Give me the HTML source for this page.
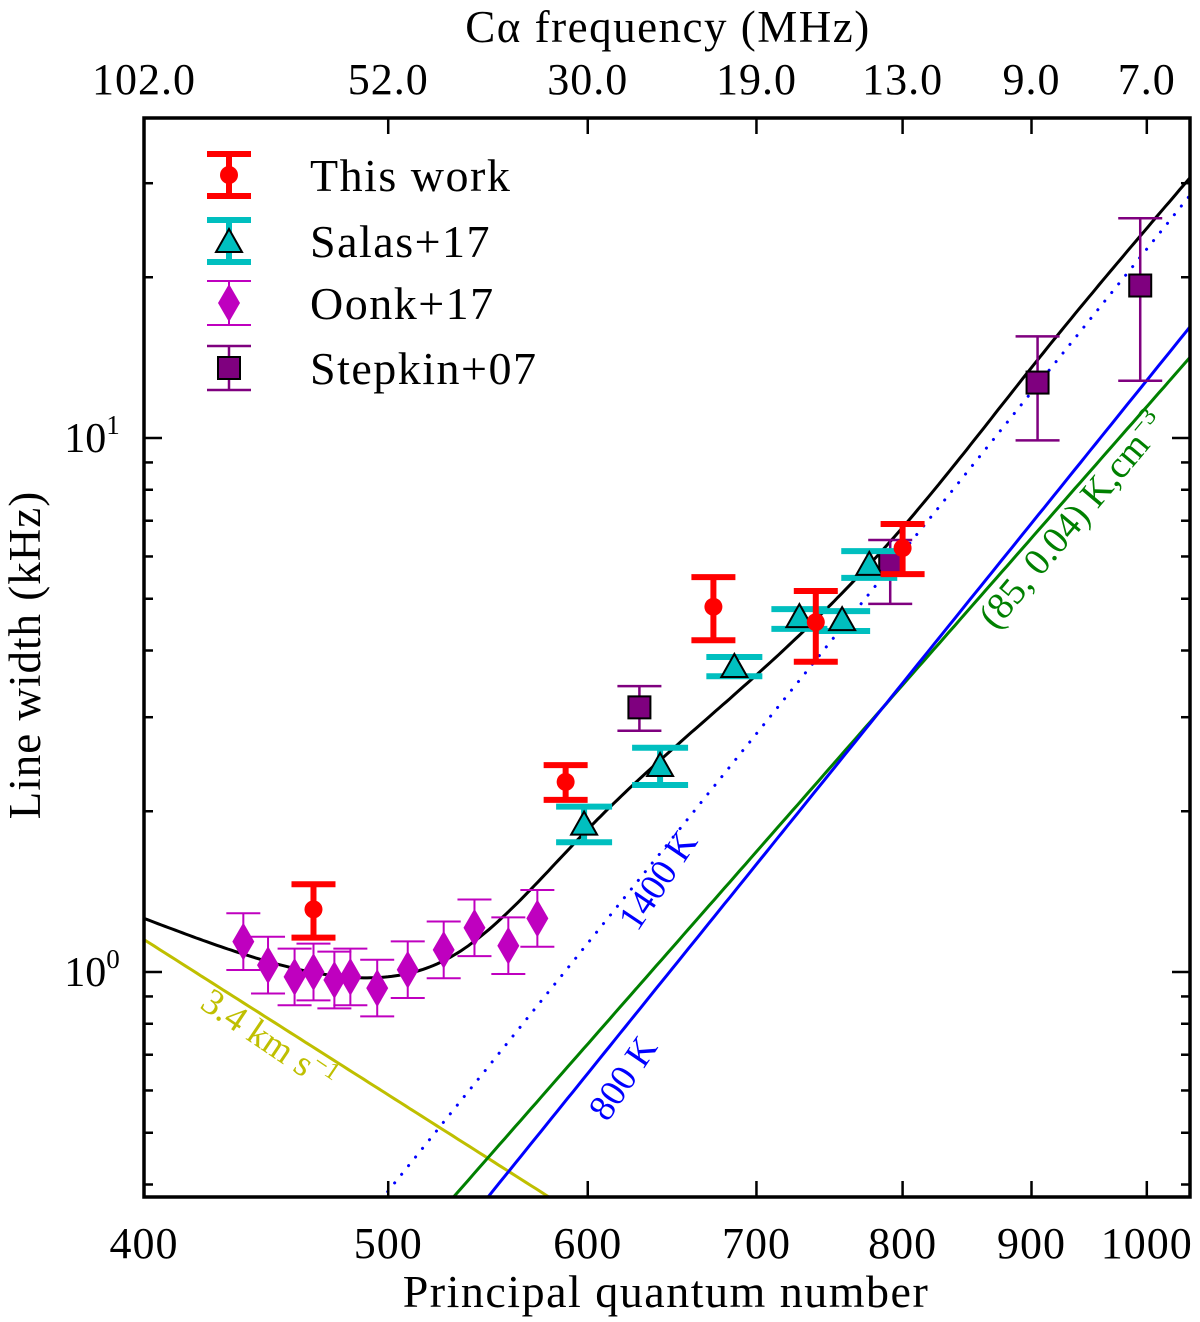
<!DOCTYPE html>
<html><head><meta charset="utf-8">
<style>
html,body{margin:0;padding:0;background:#fff;overflow:hidden;width:1200px;height:1322px;}
svg{display:block;font-family:"Liberation Serif","DejaVu Serif",serif;}
</style></head>
<body>
<svg id="chart" width="1200" height="1322" viewBox="0 0 1200 1322" xmlns="http://www.w3.org/2000/svg">
<text x="668" y="42" font-size="45" letter-spacing="1.5" text-anchor="middle">Cα frequency (MHz)</text>
<text x="666" y="1307" font-size="46" letter-spacing="1.5" text-anchor="middle">Principal quantum number</text>
<text transform="translate(40,655) rotate(-90)" font-size="45" letter-spacing="1" text-anchor="middle">Line width (kHz)</text>
<g id="layer"></g>
</svg>
<script>
// ---- data ----
const xTicks = [400,500,600,700,800,900,1000];
const topTickN = [400,500,600,700,800,900,1000];
const topTickLabels = ["102.0","52.0","30.0","19.0","13.0","9.0","7.0"];
const yMajor = [1,10];
const yMinor = [0.4,0.5,0.6,0.7,0.8,0.9,2,3,4,5,6,7,8,9,20,30];

const thisN  = [467,588,673,739,800];
const thisW  = [1.31,2.27,4.83,4.52,6.22];
const thisLo = [1.16,2.10,4.18,3.81,5.56];
const thisHi = [1.46,2.44,5.49,5.17,6.90];

const salasN  = [598,641,686,728,757,776];
const salasW  = [1.88,2.42,3.71,4.60,4.54,5.76];
const salasLo = [1.75,2.24,3.58,4.39,4.35,5.47];
const salasHi = [2.04,2.63,3.89,4.78,4.74,6.14];

const oonkN = [438,448,459,467,476,483,495,509,526,541,558,573];
const oonkW = [1.14,1.03,0.979,1.0,0.966,0.979,0.933,1.01,1.10,1.21,1.12,1.26];
const oonkErrFactor = [1.13,1.13,1.13,1.13,1.13,1.13,1.13,1.13,1.13,1.13,1.13,1.13];

const stepN  = [629,791,905,994];
const stepW  = [3.13,5.83,12.7,19.3];
const stepLo = [2.83,4.89,9.9,12.8];
const stepHi = [3.43,6.44,15.5,25.8];

// model curve nodes (log-log spline)
const modelN = [400,450,490,530,600,700,800,905,1045];
const modelW = [1.26,1.04,0.975,1.07,1.85,3.6,6.8,14.0,31.5];

// power-law lines: anchor n, anchor width, index
const dopplerAnchor = [400,1.15,-3];
const rad800Anchor  = [548,0.38,5.85];
const rad1400Anchor = [498,0.38,5.86];
const collAnchor    = [531,0.38,5.38];

// ---- axes ----
const L=144,R=1190,T=118,B=1197;
const NMIN=400, PXDEC=2520;
const NMAX=NMIN*Math.pow(10,(R-L)/PXDEC);
const Y0=972, YDEC=534;
const X=n=>L+Math.log10(n/NMIN)*PXDEC;
const Y=w=>Y0-Math.log10(w)*YDEC;
const NS="http://www.w3.org/2000/svg";
const layer=document.getElementById('layer');
function mk(tag,attrs,parent){const e=document.createElementNS(NS,tag);for(const k in attrs)e.setAttribute(k,attrs[k]);(parent||layer).appendChild(e);return e;}

const defs=mk('defs',{});
const cp=mk('clipPath',{id:'clip'},defs);
mk('rect',{x:L,y:T,width:R-L,height:B-T},cp);
const plot=mk('g',{'clip-path':'url(#clip)'});



function powerLine(a,color,dash,name){
  const f=n=>a[1]*Math.pow(n/a[0],a[2]);
  let d='';
  for(let i=0;i<=200;i++){const n=NMIN*Math.pow(NMAX/NMIN,i/200);d+=(i?'L':'M')+X(n).toFixed(1)+','+Y(f(n)).toFixed(1);}
  const p=mk('path',{d:d,fill:'none',stroke:color,'stroke-width':3,'stroke-dasharray':dash||'none','stroke-linecap':'round'},plot);
  
  
}
powerLine(dopplerAnchor,'#bfbf00',null,'doppler-line');
powerLine(collAnchor,'#008000',null,'collisional-line');
powerLine(rad800Anchor,'#0000ff',null,'radiation-800k-line');
powerLine(rad1400Anchor,'#0000ff','0.1 11','radiation-1400k-line');

// model curve: natural cubic spline in log-log
(function(){
  const xs=modelN.map(n=>Math.log10(n)), ys=modelW.map(w=>Math.log10(w));
  const m=xs.length, h=[], al=[], l=[1], mu=[0], z=[0], c=new Array(m).fill(0), b=[], dd=[];
  for(let i=0;i<m-1;i++)h.push(xs[i+1]-xs[i]);
  for(let i=1;i<m-1;i++)al[i]=3/h[i]*(ys[i+1]-ys[i])-3/h[i-1]*(ys[i]-ys[i-1]);
  for(let i=1;i<m-1;i++){l[i]=2*(xs[i+1]-xs[i-1])-h[i-1]*mu[i-1];mu[i]=h[i]/l[i];z[i]=(al[i]-h[i-1]*z[i-1])/l[i];}
  for(let j=m-2;j>=0;j--){if(j>0)c[j]=z[j]-mu[j]*c[j+1];b[j]=(ys[j+1]-ys[j])/h[j]-h[j]*(c[j+1]+2*c[j])/3;dd[j]=(c[j+1]-c[j])/(3*h[j]);}
  let d='';
  for(let i=0;i<=300;i++){
    const n=NMIN*Math.pow(NMAX/NMIN,i/300), x=Math.log10(n);
    let j=0;while(j<m-2&&x>xs[j+1])j++;
    const t=x-xs[j], y=ys[j]+b[j]*t+c[j]*t*t+dd[j]*t*t*t;
    d+=(i?'L':'M')+X(n).toFixed(1)+','+Y(Math.pow(10,y)).toFixed(1);
  }
  const p=mk('path',{d:d,fill:'none',stroke:'#000','stroke-width':3},plot);
  
  
})();

// line labels
function lbl(txt,x,y,rot,color,name,size){
  const t=mk('text',{x:0,y:0,transform:`translate(${x},${y}) rotate(${rot})`,fill:color,'font-size':size||36,'text-anchor':'middle'});
  t.innerHTML=txt;
  
  
}
lbl('3.4 km s<tspan dy="-14" font-size="25">−1</tspan>',262,1050,34,'#bfbf00','doppler-label',37);
lbl('1400 K',668,887,-56,'#0000ff','1400k-label',37);
lbl('800 K',633,1085,-56,'#0000ff','800k-label',37);
lbl('(85, 0.04) K,cm<tspan dy="-14" font-size="25">−3</tspan>',1082,528,-50,'#008000','collisional-label',38);

// error bar helpers
function ebar(g,x,lo,hi,cap,color,lw){
  mk('line',{x1:x,y1:Y(lo),x2:x,y2:Y(hi),stroke:color,'stroke-width':lw},g);
  mk('line',{x1:x-cap/2,y1:Y(lo),x2:x+cap/2,y2:Y(lo),stroke:color,'stroke-width':lw},g);
  mk('line',{x1:x-cap/2,y1:Y(hi),x2:x+cap/2,y2:Y(hi),stroke:color,'stroke-width':lw},g);
}
function marker(g,type,x,y){
  if(type==='circle')mk('circle',{cx:x,cy:y,r:9,fill:'#ff0000'},g);
  if(type==='tri')mk('polygon',{points:`${x},${y-14} ${x-13},${y+9} ${x+13},${y+9}`,fill:'#00bfbf',stroke:'#000','stroke-width':2},g);
  if(type==='dia')mk('polygon',{points:`${x},${y-19} ${x+11},${y} ${x},${y+19} ${x-11},${y}`,fill:'#bf00bf'},g);
  if(type==='sq')mk('rect',{x:x-11,y:y-11,width:22,height:22,fill:'#7f007f',stroke:'#000','stroke-width':2},g);
}

// Oonk
const gO=mk('g',{});


oonkN.forEach((n,i)=>{const w=oonkW[i];ebar(gO,X(n),w/oonkErrFactor[i],w*oonkErrFactor[i],34,'#bf00bf',2);marker(gO,'dia',X(n),Y(w));});
// Stepkin
const gS=mk('g',{});


stepN.forEach((n,i)=>{ebar(gS,X(n),stepLo[i],stepHi[i],44,'#7f007f',2.5);marker(gS,'sq',X(n),Y(stepW[i]));});
// Salas
const gA=mk('g',{});


salasN.forEach((n,i)=>{ebar(gA,X(n),salasLo[i],salasHi[i],56,'#00bfbf',6);marker(gA,'tri',X(n),Y(salasW[i]));});
// This work
const gT=mk('g',{});


thisN.forEach((n,i)=>{ebar(gT,X(n),thisLo[i],thisHi[i],44,'#ff0000',6);marker(gT,'circle',X(n),Y(thisW[i]));});

// frame
const fr=mk('rect',{x:L,y:T,width:R-L,height:B-T,fill:'none',stroke:'#000','stroke-width':3.5});



// x ticks & labels
xTicks.forEach(n=>{
  const x=X(n);
  if(n>NMIN){
    mk('line',{x1:x,y1:B,x2:x,y2:B-16,stroke:'#000','stroke-width':2.5});
    mk('line',{x1:x,y1:T,x2:x,y2:T+16,stroke:'#000','stroke-width':2.5});
  }
  const t=mk('text',{x:x,y:1258,'font-size':44,'letter-spacing':1,'text-anchor':'middle'});
  t.textContent=n;
  
  
});
topTickN.forEach((n,i)=>{
  const t=mk('text',{x:X(n),y:94,'font-size':44,'letter-spacing':1,'text-anchor':'middle'});
  t.textContent=topTickLabels[i];
  
  
});
yMajor.forEach(w=>{
  const y=Y(w);
  mk('line',{x1:L,y1:y,x2:L+18,y2:y,stroke:'#000','stroke-width':2.5});
  mk('line',{x1:R,y1:y,x2:R-18,y2:y,stroke:'#000','stroke-width':2.5});
  const t=mk('text',{x:92,y:y+14,'font-size':42,'text-anchor':'middle'});
  t.innerHTML='10<tspan dy="-18" font-size="27">'+Math.round(Math.log10(w))+'</tspan>';
  
  
});
yMinor.forEach(w=>{
  const y=Y(w);
  mk('line',{x1:L,y1:y,x2:L+9,y2:y,stroke:'#000','stroke-width':2.5});
  mk('line',{x1:R,y1:y,x2:R-9,y2:y,stroke:'#000','stroke-width':2.5});
});

// legend
const lg=mk('g',{});


const legNames=['This work','Salas+17','Oonk+17','Stepkin+07'];
const legY=[175,241,303,368];
function legErr(cy,half,cap,color,lw){
  mk('line',{x1:229,y1:cy-half,x2:229,y2:cy+half,stroke:color,'stroke-width':lw},lg);
  mk('line',{x1:229-cap/2,y1:cy-half,x2:229+cap/2,y2:cy-half,stroke:color,'stroke-width':lw},lg);
  mk('line',{x1:229-cap/2,y1:cy+half,x2:229+cap/2,y2:cy+half,stroke:color,'stroke-width':lw},lg);
}
legErr(legY[0],21,44,'#ff0000',6);marker(lg,'circle',229,legY[0]);
legErr(legY[1],21,44,'#00bfbf',6);marker(lg,'tri',229,legY[1]+2);
legErr(legY[2],22,44,'#bf00bf',2);marker(lg,'dia',229,legY[2]);
legErr(legY[3],22,44,'#7f007f',2.5);marker(lg,'sq',229,legY[3]);
legNames.forEach((s,i)=>{
  const t=mk('text',{x:310,y:legY[i]+16,'font-size':46,'letter-spacing':1.5},lg);
  t.textContent=s;
  
  
});
</script>
</body></html>
